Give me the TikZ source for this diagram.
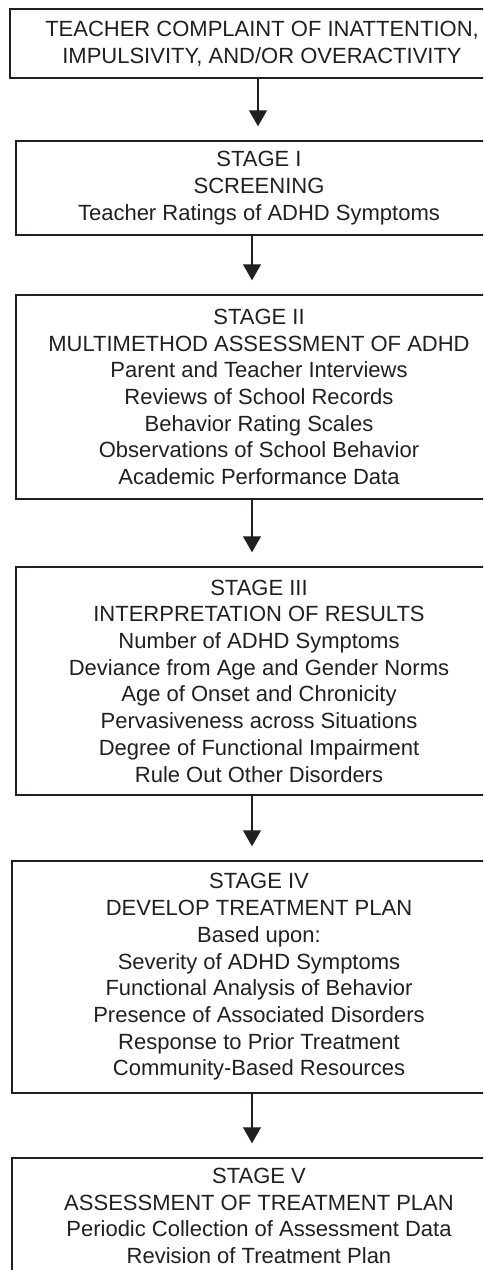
\documentclass[tikz,border=0pt]{standalone}
\usepackage{fontspec}
\setmainfont{Liberation Sans}
\usepackage{xcolor}
\usepackage{tikz}
\usetikzlibrary{positioning, arrows.meta}
\definecolor{pInk}{HTML}{231F20}
\tikzset{
  stagebox/.style={draw=pInk, line width=0.7pt, text=pInk, align=center, inner sep=0pt,
    font=\fontsize{11}{13.35}\selectfont},
  flowarrow/.style={draw=pInk, line width=0.55pt, -{Triangle[width=9pt,length=8pt]},
    shorten >=7pt},
}

\begin{document}
\begin{tikzpicture}[x=0.5pt, y=-0.5pt]
  \useasboundingbox (0,0) rectangle (483,1270);
  \clip (0,0) rectangle (483,1270);
  % referral and the five stages
  \node[stagebox, minimum width=252pt, minimum height=34.5pt] (complaint) at (262,43.5)
    {TEACHER COMPLAINT OF INATTENTION,\\IMPULSIVITY, AND/OR OVERACTIVITY};
  \node[stagebox, minimum width=243pt, minimum height=47pt] (screening) at (259,188)
    {STAGE I\\SCREENING\\Teacher Ratings of ADHD Symptoms};
  \node[stagebox, minimum width=243pt, minimum height=102pt] (multimethod) at (259,397)
    {STAGE II\\MULTIMETHOD ASSESSMENT OF ADHD\\Parent and Teacher Interviews\\
     Reviews of School Records\\Behavior Rating Scales\\Observations of School Behavior\\
     Academic Performance Data};
  \node[stagebox, minimum width=243pt, minimum height=114pt] (interpret) at (259,681)
    {STAGE III\\INTERPRETATION OF RESULTS\\Number of ADHD Symptoms\\
     Deviance from Age and Gender Norms\\Age of Onset and Chronicity\\
     Pervasiveness across Situations\\Degree of Functional Impairment\\
     Rule Out Other Disorders};
  \node[stagebox, minimum width=247pt, minimum height=116pt] (treatment) at (259,977)
    {STAGE IV\\DEVELOP TREATMENT PLAN\\Based upon:\\Severity of ADHD Symptoms\\
     Functional Analysis of Behavior\\Presence of Associated Disorders\\
     Response to Prior Treatment\\Community-Based Resources};
  \node[stagebox, minimum width=247pt, minimum height=58pt] (review) at (259,1216)
    {STAGE V\\ASSESSMENT OF TREATMENT PLAN\\Periodic Collection of Assessment Data\\
     Revision of Treatment Plan};

  % arrows between stages
  \draw[flowarrow] ([xshift=-2pt]complaint.south) -- ([xshift=-0.5pt]screening.north);
  \draw[flowarrow] ([xshift=-3.5pt]screening.south) -- ([xshift=-3.5pt]multimethod.north);
  \draw[flowarrow] ([xshift=-3.5pt]multimethod.south) -- ([xshift=-3.5pt]interpret.north);
  \draw[flowarrow] ([xshift=-3.5pt]interpret.south) -- ([xshift=-3.5pt]treatment.north);
  \draw[flowarrow] ([xshift=-3.5pt]treatment.south) -- ([xshift=-3.5pt]review.north);
\end{tikzpicture}
\end{document}
